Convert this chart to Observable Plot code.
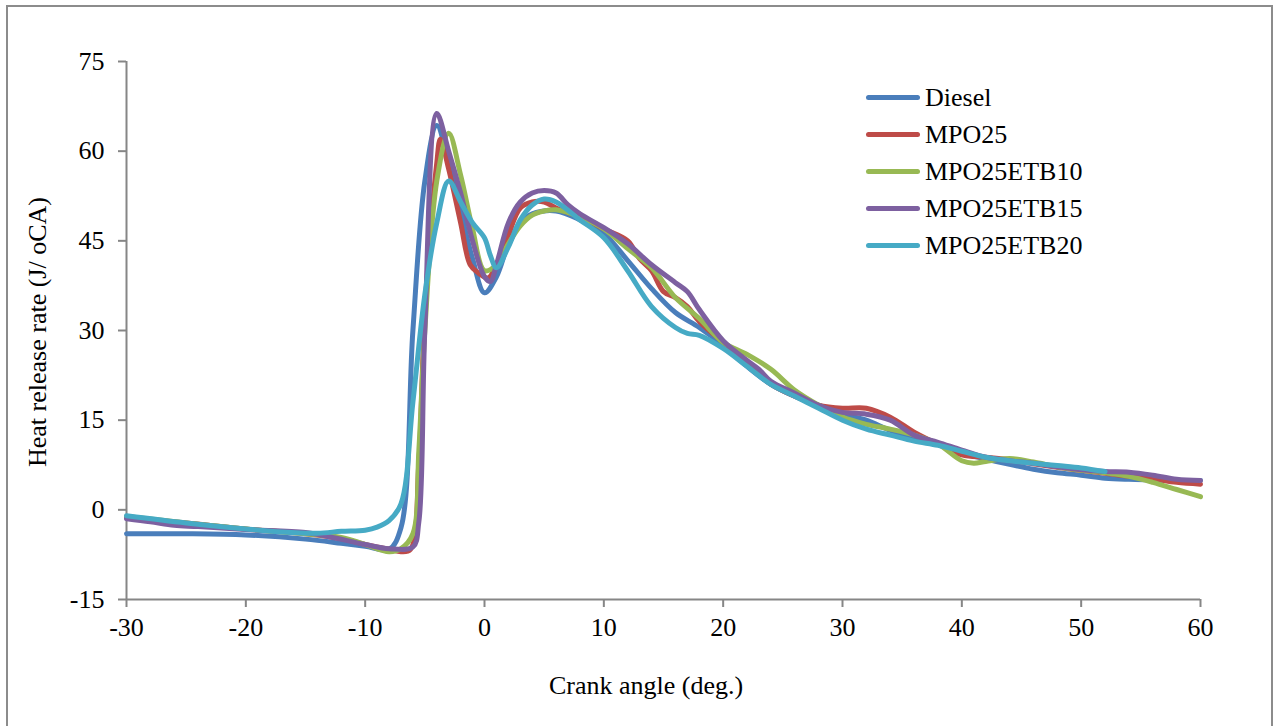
<!DOCTYPE html>
<html>
<head>
<meta charset="utf-8">
<script src="https://cdn.jsdelivr.net/npm/d3@7"></script>
<script src="https://cdn.jsdelivr.net/npm/@observablehq/plot@0.6"></script>
<style>
  html, body { margin: 0; padding: 0; background: #fff; }
  #wrap { position: relative; width: 1276px; height: 726px; overflow: hidden; font-family: "Liberation Serif", "DejaVu Serif", serif; }
  #frame { position: absolute; left: 6px; top: 5px; width: 1267px; height: 740px; border: 2px solid #8c8c8c; box-sizing: border-box; }
  #chart { position: absolute; left: 0; top: 0; }
  .title { position: absolute; font-size: 26px; line-height: 1; color: #000; white-space: nowrap; }
  #xtitle { left: 646px; top: 686px; transform: translate(-50%, -50%); }
  #ytitle { left: 38px; top: 332px; transform: translate(-50%, -50%) rotate(-90deg); }
  #legend { position: absolute; left: 866px; top: 79px; font-size: 26px; line-height: 1; }
  .item { display: flex; align-items: center; height: 37px; }
  .sw { width: 54px; height: 5px; border-radius: 3px; margin-right: 5px; }
</style>
</head>
<body>
<div id="wrap">
  <div id="frame"></div>
  <div id="chart"></div>
  <div class="title" id="xtitle">Crank angle (deg.)</div>
  <div class="title" id="ytitle">Heat release rate (J/ oCA)</div>
  <div id="legend"></div>
</div>
<script>
const seriesNames = ["Diesel", "MPO25", "MPO25ETB10", "MPO25ETB15", "MPO25ETB20"];
const seriesColors = ["#4a7ebb", "#be4b48", "#98b954", "#7d60a0", "#46aac5"];
const xTicks = [-30, -20, -10, 0, 10, 20, 30, 40, 50, 60];
const yTicks = [-15, 0, 15, 30, 45, 60, 75];

const diesel = [[-30,-4],[-25,-4],[-20,-4.2],[-15,-4.9],[-12,-5.6],[-10,-6.1],[-8,-6.6],[-7,-3],[-6,30],[-5,55],[-4,64.3],[-3,58],[-2,50],[-1,42],[0,36.3],[1,39],[2,44.5],[3,48],[4,49.5],[6,50],[8,48.5],[10,46.2],[12,41.7],[14,37],[16,33],[18,30.5],[20,27.5],[22,24],[24,21],[26,19],[28,17.5],[30,16],[32,15],[34,13.3],[36,12],[38,11],[40,9.5],[42,8.5],[44,7.6],[46,6.8],[48,6.2],[50,5.8],[52,5.3],[54,5.1],[56,5],[58,4.9],[60,4.9]];
const mpo25 = [[-30,-1.3],[-25,-2.2],[-20,-3.2],[-15,-4],[-12,-4.8],[-10,-5.8],[-8,-6.6],[-7,-7],[-6.2,-6.6],[-5.5,8],[-5,33],[-4,58],[-3.7,62],[-3,57],[-2,48],[-1.2,41],[-0.5,39.6],[0.3,38.8],[1,41],[2,46],[3,50.5],[4,51.5],[5,51.5],[6,50.5],[8,49],[10,47],[12,45],[13,42],[14,40],[15,36.5],[16,35.5],[17,34],[18,31.5],[20,28],[22,24.5],[24,21],[26,19],[28,17.5],[30,17],[32,17],[34,15.5],[36,13],[38,11],[40,9.2],[42,8.8],[44,8.4],[46,7.7],[48,7.1],[50,6.6],[52,6.1],[54,5.6],[56,5.2],[58,4.6],[60,4.3]];
const etb10 = [[-30,-1.1],[-25,-2.2],[-20,-3.2],[-15,-4],[-12,-4.6],[-10,-5.8],[-8,-7],[-7,-6.5],[-6,-4],[-5.5,10],[-5,30],[-4,55],[-3,63],[-2,56],[-1,47],[0,40],[1,41],[2,44.5],[3,47.5],[4,49.3],[5,50],[6,50.2],[8,49],[10,47],[12,43.7],[14,40.5],[16,35.5],[18,32],[20,28],[22,26],[24,23.5],[26,20],[28,17.5],[30,15.5],[32,14.3],[34,13.5],[36,12.5],[38,11],[40,8.2],[41,7.8],[42,8.1],[44,8.6],[46,8],[48,7.2],[50,6.6],[52,6.2],[54,5.6],[56,4.6],[58,3.4],[60,2.2]];
const etb15 = [[-30,-1.5],[-28,-2],[-26,-2.6],[-24,-2.8],[-20,-3.3],[-15,-3.8],[-13,-4.5],[-10,-5.8],[-8,-6.5],[-6,-6.2],[-5.5,-2],[-5,30],[-4,66.3],[-3,60],[-2,53],[-1,45],[0,39],[0.5,38.2],[1,41],[2,48],[3,51.5],[4,53],[5,53.4],[6,53],[7,51],[8,49.5],[10,47.2],[12,44.5],[14,41],[16,38],[17,36.5],[18,33.5],[20,28.3],[22,25],[23,23.5],[24,21.5],[26,19.5],[28,17.5],[30,16.3],[32,16],[34,15],[36,12.5],[38,11.3],[40,10],[42,8.8],[44,8.2],[46,7.8],[48,7.2],[50,6.7],[52,6.4],[54,6.3],[56,5.8],[58,5.1],[60,4.9]];
const etb20 = [[-30,-1],[-25,-2.2],[-20,-3.2],[-17,-3.7],[-14,-3.9],[-12,-3.6],[-10,-3.4],[-9,-2.9],[-8,-1.8],[-7,1],[-6,18],[-5,36],[-4,48],[-3,55],[-2,51.5],[-1,48],[0,45.5],[0.5,42.5],[1,40.5],[2,44],[3,48.5],[4,51],[5,52],[6,51.5],[8,48.5],[10,45.5],[12,40],[14,34],[16,30.5],[17,29.5],[18,29.2],[20,27],[22,24],[24,21],[26,19],[28,17],[30,15],[32,13.5],[34,12.5],[36,11.5],[38,10.8],[40,9.8],[42,8.8],[44,8.2],[46,7.8],[48,7.4],[50,7],[52,6.4]];

const seriesData = [diesel, mpo25, etb10, etb15, etb20];
const rows = seriesData.flatMap((arr, i) => arr.map(([x, y]) => ({series: seriesNames[i], x, y})));

const axisColor = "#868686";
const fmt = d => String(d);
const chart = Plot.plot({
  width: 1276,
  height: 726,
  marginLeft: 126,
  marginRight: 76,
  marginTop: 61,
  marginBottom: 127,
  style: {fontFamily: "'Liberation Serif', 'DejaVu Serif', serif", fontSize: "26px", color: "#000", background: "transparent"},
  x: {domain: [-30, 60], ticks: xTicks},
  y: {domain: [-15, 75], ticks: yTicks},
  color: {domain: seriesNames, range: seriesColors},
  marks: [
    Plot.axisY({ticks: yTicks, tickFormat: fmt, tickSize: 8, tickPadding: 14, stroke: axisColor, strokeWidth: 2, strokeOpacity: 1, label: null, fontSize: 26, fill: "#000"}),
    Plot.axisX({ticks: xTicks, tickFormat: fmt, tickSize: 8, tickPadding: 10, stroke: axisColor, strokeWidth: 2, strokeOpacity: 1, label: null, fontSize: 26, fill: "#000"}),
    Plot.ruleX([-30], {stroke: axisColor, strokeWidth: 2}),
    Plot.ruleY([-15], {stroke: axisColor, strokeWidth: 2}),
    Plot.line(rows, {x: "x", y: "y", z: "series", stroke: "series", strokeWidth: 5, curve: "catmull-rom", strokeLinecap: "round", strokeLinejoin: "round"})
  ]
});
document.getElementById("chart").appendChild(chart);

const legend = document.getElementById("legend");
seriesNames.forEach((name, i) => {
  const item = document.createElement("div");
  item.className = "item";
  const sw = document.createElement("div");
  sw.className = "sw";
  sw.style.background = seriesColors[i];
  const lab = document.createElement("span");
  lab.textContent = name;
  item.appendChild(sw);
  item.appendChild(lab);
  legend.appendChild(item);
});
</script>
</body>
</html>
